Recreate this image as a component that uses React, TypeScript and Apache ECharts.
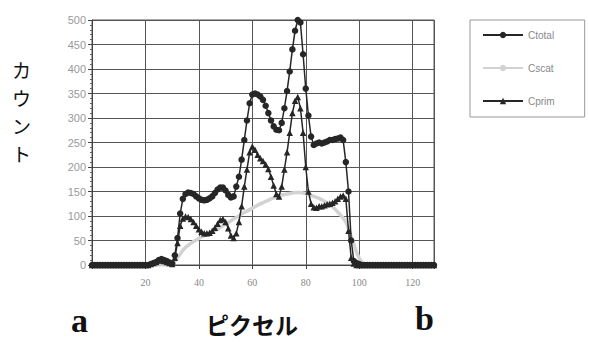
import React, { useEffect, useRef } from "react";
import * as echarts from "echarts";

const xTicks = [20, 40, 60, 80, 100, 120];
const seriesNames = ["Ctotal", "Cscat", "Cprim"];
const yTitleChars = ["カ", "ウ", "ン", "ト"];

// values at pixel 0..128
const ctotal = [
  0, 0, 0, 0, 0, 0, 0, 0, 0, 0, 0, 0, 0, 0, 0, 0, 0, 0, 0, 0,
  0, 0, 2, 4, 6, 10, 12, 10, 8, 5, 3, 20, 55, 105, 135, 145, 148, 147, 145, 140,
  136, 133, 132, 133, 136, 140, 147, 154, 158, 158, 152, 143, 138, 140, 160, 180, 215, 255, 295, 330,
  348, 350, 348, 344, 337, 325, 310, 295, 283, 276, 275, 290, 320, 355, 395, 440, 478, 500, 495, 430,
  360, 305, 262, 245, 248, 250, 248, 250, 252, 255, 255, 257, 258, 260, 255, 210, 150, 50, 8, 4,
  2, 0, 0, 0, 0, 0, 0, 0, 0, 0, 0, 0, 0, 0, 0, 0, 0, 0, 0, 0,
  0, 0, 0, 0, 0, 0, 0, 0, 0,
];

const cscat = [
  0, 0, 0, 0, 0, 0, 0, 0, 0, 0, 0, 0, 0, 0, 0, 0, 0, 0, 0, 0,
  0, 0, 0, 0, 0, 0, 0, 0, 0, 0, 2, 8, 15, 22, 30, 36, 40, 44, 48, 51,
  54, 57, 60, 62, 64, 67, 70, 73, 77, 80, 84, 87, 90, 94, 97, 100, 104, 107, 110, 113,
  116, 119, 122, 125, 127, 130, 132, 135, 137, 140, 142, 143, 144, 145, 146, 147, 148, 148, 148, 147,
  146, 144, 142, 140, 138, 136, 133, 130, 127, 123, 119, 114, 108, 102, 96, 88, 75, 58, 42, 26,
  14, 6, 2, 0, 0, 0, 0, 0, 0, 0, 0, 0, 0, 0, 0, 0, 0, 0, 0, 0,
  0, 0, 0, 0, 0, 0, 0, 0, 0,
];

const cprim = [
  0, 0, 0, 0, 0, 0, 0, 0, 0, 0, 0, 0, 0, 0, 0, 0, 0, 0, 0, 0,
  0, 0, 2, 4, 6, 9, 10, 8, 6, 4, 2, 15, 45, 80, 95, 99, 98, 94, 88, 80,
  73, 68, 65, 65, 66, 70, 76, 84, 92, 94, 88, 75, 60, 55, 65, 88, 120, 160, 195, 230,
  242, 235, 225, 218, 212, 205, 196, 180, 162, 145, 140, 160, 195, 230, 270, 310, 335, 343, 320, 270,
  200, 150, 125, 118, 117, 120, 120, 122, 124, 125, 127, 130, 135, 140, 142, 135, 70, 15, 3, 0,
  0, 0, 0, 0, 0, 0, 0, 0, 0, 0, 0, 0, 0, 0, 0, 0, 0, 0, 0, 0,
  0, 0, 0, 0, 0, 0, 0, 0, 0,
];

const toPairs = (arr: number[]) => arr.map((v, i) => [i, v]);

export default function App() {
  const ref = useRef<HTMLDivElement>(null);
  useEffect(() => {
    const chart = echarts.init(ref.current!, null, { renderer: "svg" });
    const dark = "#262626";
    const yTitle = yTitleChars.map((ch, i) => ({
      type: "text",
      left: 12,
      top: 60 + i * 28,
      style: {
        text: ch,
        font: "19px 'Noto Sans CJK JP'",
        fill: "#111",
      },
    }));
    chart.setOption({
      animation: false,
      backgroundColor: "#ffffff",
      grid: {
        left: 92,
        right: 155,
        top: 20,
        bottom: 78,
        show: true,
        borderColor: "#555",
        borderWidth: 1,
      },
      legend: {
        orient: "vertical",
        left: 470,
        top: 20,
        padding: [10, 30, 11, 12],
        itemGap: 23,
        itemWidth: 40,
        itemHeight: 8,
        borderColor: "#999",
        borderWidth: 1,
        textStyle: { fontFamily: "Liberation Sans, Arial", fontSize: 10, color: "#888" },
        data: seriesNames,
      },
      xAxis: {
        type: "value",
        min: 0,
        max: 128,
        interval: 20,
        axisLine: { show: true, lineStyle: { color: "#444" } },
        axisTick: { show: true, length: 4, lineStyle: { color: "#444" } },
        splitLine: { show: true, lineStyle: { color: "#555", width: 1 } },
        axisLabel: {
          fontFamily: "Liberation Serif, Times New Roman",
          fontSize: 10,
          color: "#888",
          margin: 12,
          formatter: (v: number) => (xTicks.includes(v) ? String(v) : ""),
        },
      },
      yAxis: {
        type: "value",
        min: 0,
        max: 500,
        interval: 50,
        axisLine: { show: true, lineStyle: { color: "#444" } },
        axisTick: { show: true, length: 4, lineStyle: { color: "#444" } },
        minorTick: { show: true, splitNumber: 5, length: 2, lineStyle: { color: "#666" } },
        splitLine: { show: true, lineStyle: { color: "#555", width: 1 } },
        axisLabel: {
          fontFamily: "Liberation Sans, Arial",
          fontSize: 11,
          color: "#999",
          margin: 6,
        },
      },
      series: [
        {
          name: "Ctotal",
          type: "line",
          data: toPairs(ctotal),
          symbol: "circle",
          symbolSize: 6.5,
          showAllSymbol: true,
          itemStyle: { color: dark },
          lineStyle: { color: dark, width: 1.5 },
          z: 3,
        },
        {
          name: "Cscat",
          type: "line",
          data: toPairs(cscat),
          symbol: "none",
          itemStyle: { color: "#d2d2d2" },
          lineStyle: { color: "#d2d2d2", width: 3.5 },
          z: 2,
        },
        {
          name: "Cprim",
          type: "line",
          data: toPairs(cprim),
          symbol: "triangle",
          symbolSize: 6.5,
          showAllSymbol: true,
          itemStyle: { color: dark },
          lineStyle: { color: dark, width: 1.5 },
          z: 4,
        },
      ],
      graphic: [
        ...yTitle,
        {
          type: "text",
          left: 206,
          top: 312,
          style: {
            text: "ピクセル",
            font: "bold 23px 'Noto Sans CJK JP'",
            fill: "#111",
          },
        },
        {
          type: "text",
          left: 71,
          top: 303,
          style: {
            text: "a",
            font: "bold 34px 'Liberation Serif', 'Times New Roman'",
            fill: "#111",
          },
        },
        {
          type: "text",
          left: 415,
          top: 301,
          style: {
            text: "b",
            font: "bold 34px 'Liberation Serif', 'Times New Roman'",
            fill: "#111",
          },
        },
      ],
    });
    return () => chart.dispose();
  }, []);
  return <div ref={ref} style={{ width: 589, height: 343, position: "absolute", left: 0, top: 0 }} />;
}
